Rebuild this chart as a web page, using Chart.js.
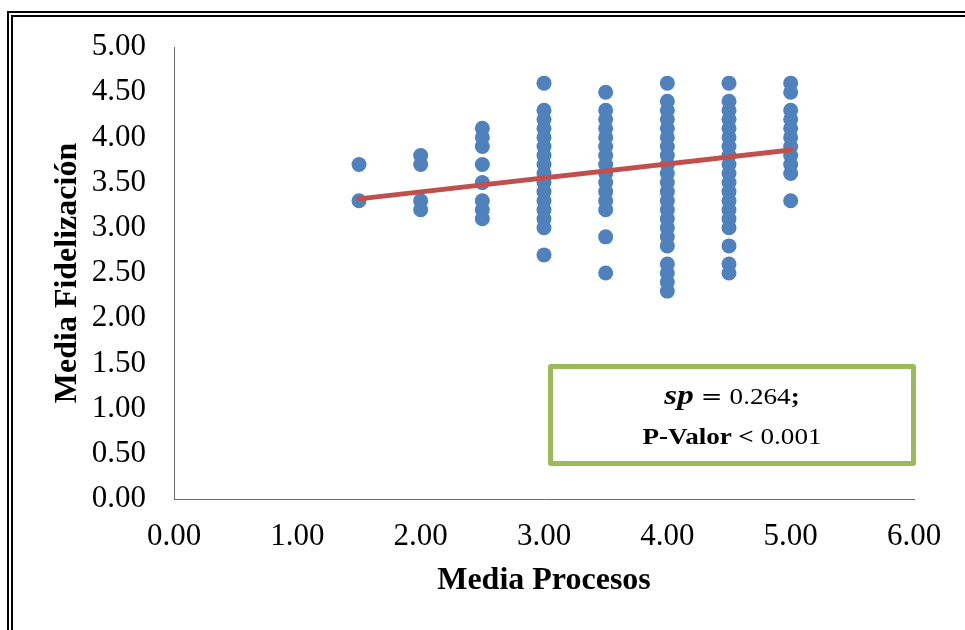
<!DOCTYPE html>
<html>
<head>
<meta charset="utf-8">
<script src="https://cdn.jsdelivr.net/npm/chart.js@4.4.1/dist/chart.umd.min.js"></script>
<style>
  html, body { margin: 0; padding: 0; background: #fff; }
  body { width: 965px; height: 630px; position: relative; overflow: hidden; }
  #frame {
    position: absolute; left: 7px; top: 11px; width: 1000px; height: 700px;
    border-left: 6px double #000; border-top: 6px double #000;
  }
  #mainChart { position: absolute; left: 0; top: 0; }
  #stats {
    position: absolute; left: 548px; top: 364px; width: 368px; height: 102px;
    box-sizing: border-box; border: 5px solid #9BBB59; border-radius: 3px;
    padding-top: 6px; text-align: center;
    font-family: 'Liberation Serif', 'Times New Roman', serif; font-size: 23px; color: #000;
  }
  #stats div { line-height: 40px; transform: scaleX(1.18); }
  #stats .m { font-size: 28px; font-weight: bold; font-style: italic; }
  #stats .eq { font-family: 'DejaVu Sans', sans-serif; font-size: 22px; padding: 0 6px; }
</style>
</head>
<body>
<div id="frame"></div>
<canvas id="mainChart" width="965" height="630"></canvas>
<div id="stats">
  <div><span class="m">sp</span><span class="eq">=</span>0.264<b>;</b></div>
  <div><b>P-Valor &lt;</b> 0.001</div>
</div>
<script>
// --- DATA ---
const procesos = [1.5, 2, 2.5, 3, 3.5, 4, 4.5, 5];

const fid_1_5 = [3.7, 3.3];
const fid_2_0 = [3.8, 3.7, 3.3, 3.2];
const fid_2_5 = [4.1, 4.0, 3.9, 3.7, 3.5, 3.3, 3.2, 3.1];
const fid_3_0 = [4.6, 4.3, 4.2, 4.1, 4.0, 3.9, 3.8, 3.7, 3.6, 3.5, 3.4, 3.3, 3.2, 3.1, 3.0, 2.7];
const fid_3_5 = [4.5, 4.3, 4.2, 4.1, 4.0, 3.9, 3.8, 3.7, 3.6, 3.5, 3.4, 3.3, 3.2, 2.9, 2.5];
const fid_4_0 = [4.6, 4.4, 4.3, 4.2, 4.1, 4.0, 3.9, 3.8, 3.7, 3.6, 3.5, 3.4, 3.3, 3.2, 3.1, 3.0, 2.9, 2.8, 2.6, 2.5, 2.4, 2.3];
const fid_4_5 = [4.6, 4.4, 4.3, 4.2, 4.1, 4.0, 3.9, 3.8, 3.7, 3.6, 3.5, 3.4, 3.3, 3.2, 3.1, 3.0, 2.8, 2.6, 2.5];
const fid_5_0 = [4.6, 4.5, 4.3, 4.2, 4.1, 4.0, 3.9, 3.8, 3.7, 3.6, 3.3];
const fidelizacion = [fid_1_5, fid_2_0, fid_2_5, fid_3_0, fid_3_5, fid_4_0, fid_4_5, fid_5_0];

// linear trend line (ends)
const trendX = [1.5, 5];
const trendY = [3.32, 3.86];

const xTicks = [0, 1, 2, 3, 4, 5, 6];
const yTicks = [0, 0.5, 1, 1.5, 2, 2.5, 3, 3.5, 4, 4.5, 5];

const points = [];
procesos.forEach((x, i) => fidelizacion[i].forEach(y => points.push({ x: x, y: y })));
const trend = trendX.map((x, i) => ({ x: x, y: trendY[i] }));

// --- CHART ---
const serif = "'Liberation Serif', 'Times New Roman', serif";
const ctx = document.getElementById('mainChart').getContext('2d');
const mainChart = new Chart(ctx, {
    type: 'scatter',
    data: {
        datasets: [
            {
                type: 'line', data: trend, order: 0,
                borderColor: '#C0504D', borderWidth: 5, borderCapStyle: 'round',
                pointRadius: 0, fill: false
            },
            {
                data: points, order: 1,
                backgroundColor: '#4F81BD', borderWidth: 0, pointRadius: 7.5
            }
        ]
    },
    options: {
        responsive: false,
        animation: false,
        events: [],
        layout: { padding: { top: 47, right: 51, bottom: 0, left: 0 } },
        plugins: { legend: { display: false }, tooltip: { enabled: false } },
        scales: {
            x: {
                type: 'linear', min: 0, max: 6,
                afterBuildTicks: s => { s.ticks = xTicks.map(v => ({ value: v })); },
                afterFit: s => { s.height = 131; },
                grid: { display: false, drawTicks: false },
                border: { color: '#6b6b6b', width: 1 },
                ticks: { color: '#000', padding: 19, font: { family: serif, size: 31 }, callback: v => v.toFixed(2) },
                title: { display: true, text: 'Media Procesos', color: '#000',
                         font: { family: serif, size: 32, weight: 'bold' }, padding: { top: 0, bottom: 30 } }
            },
            y: {
                type: 'linear', min: 0, max: 5,
                afterBuildTicks: s => { s.ticks = yTicks.map(v => ({ value: v })); },
                afterFit: s => { s.width = 174; },
                grid: { display: false, drawTicks: false },
                border: { color: '#6b6b6b', width: 1 },
                ticks: { color: '#000', padding: 28, font: { family: serif, size: 31 }, callback: v => v.toFixed(2) },
                title: { display: true, text: 'Media Fidelización', color: '#000',
                         font: { family: serif, size: 32, weight: 'bold' }, padding: { top: 49, bottom: 0 } }
            }
        }
    }
});
</script>
</body>
</html>
